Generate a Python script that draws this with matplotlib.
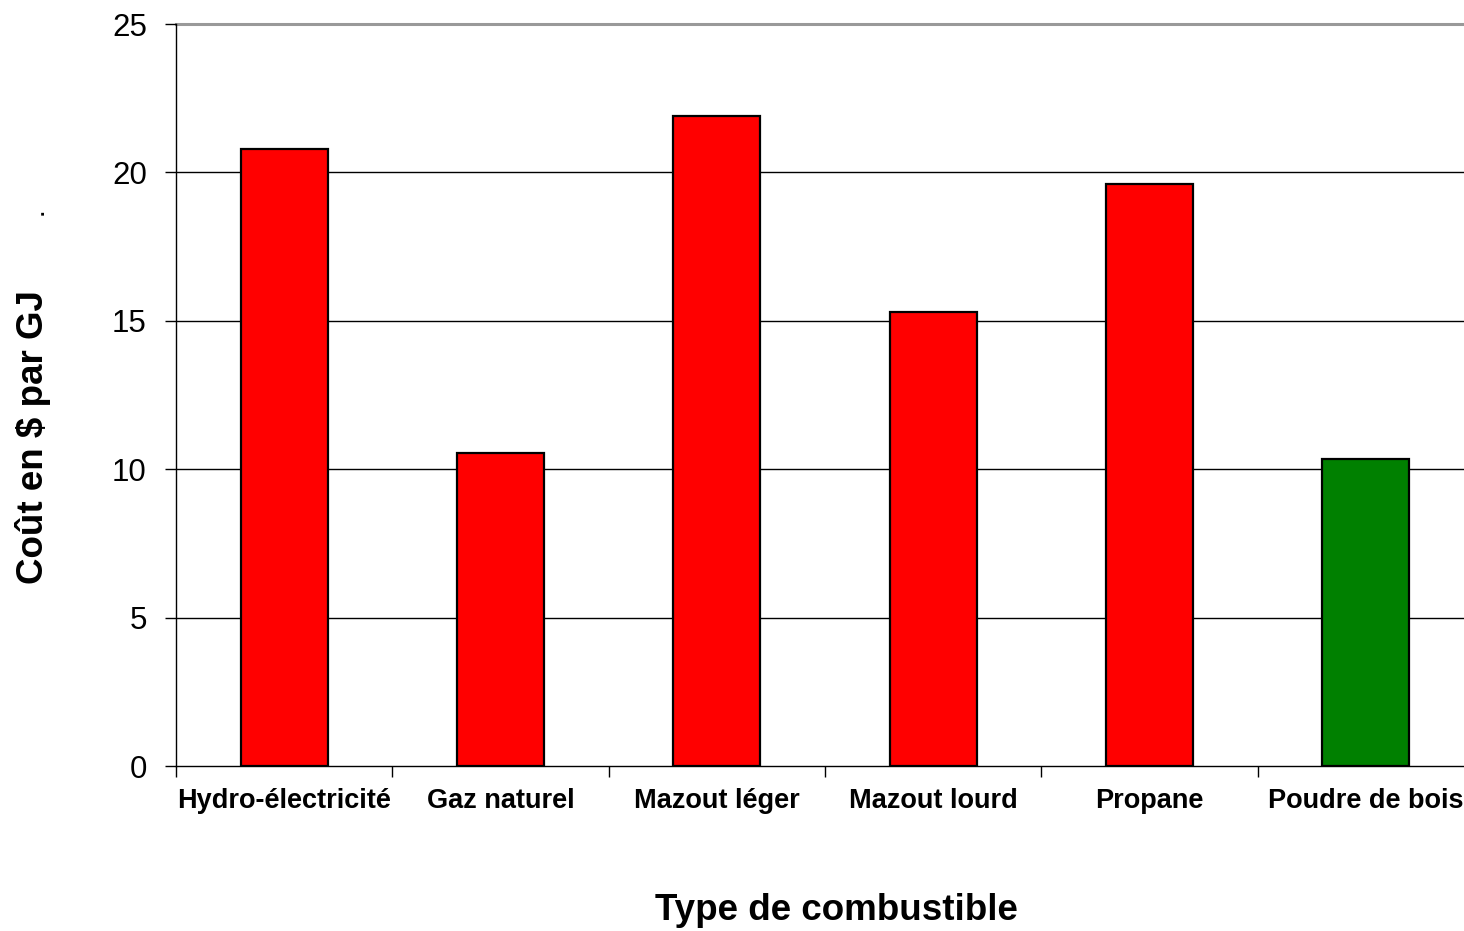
import matplotlib
matplotlib.use("Agg")
import matplotlib.pyplot as plt
import numpy as np

plt.rcParams['font.family'] = ['Liberation Sans', 'DejaVu Sans']

categories = ["Hydro-électricité", "Gaz naturel", "Mazout léger",
              "Mazout lourd", "Propane", "Poudre de bois"]
costs = [20.8, 10.55, 21.9, 15.3, 19.6, 10.35]
colors = ["#FF0000", "#FF0000", "#FF0000", "#FF0000", "#FF0000", "#008000"]
y_ticks = [0, 5, 10, 15, 20, 25]

fig = plt.figure(figsize=(14.64, 9.31), dpi=100)
# plot area runs slightly past the right edge of the canvas
ax = fig.add_axes([176 / 1464, 1 - 766 / 931, 1298 / 1464, (766 - 24) / 931])

x = np.arange(len(categories))
ax.bar(x, costs, width=0.402, color=colors, edgecolor="black", linewidth=1.6, zorder=3)

ax.set_xlim(-0.5, len(categories) - 0.5)
ax.set_ylim(0, 25)
ax.set_yticks(y_ticks)
ax.set_yticklabels([str(v) for v in y_ticks], fontsize=22.5)

# category boundaries carry the tick marks, labels sit at the centres
ax.set_xticks(np.arange(len(categories) + 1) - 0.5)
ax.set_xticklabels([])
ax.set_xticks(x, minor=True)
ax.set_xticklabels(categories, minor=True, fontsize=19.5, fontweight="bold")
ax.tick_params(axis="x", which="major", direction="out", length=8, width=1, color="black")
ax.tick_params(axis="x", which="minor", length=0, pad=16)
ax.tick_params(axis="y", direction="out", length=8, width=1, pad=13)

for v in y_ticks[1:-1]:
    ax.axhline(v, color="black", linewidth=1, zorder=1)
ax.axhline(25, color="#999999", linewidth=2.2, zorder=1, clip_on=False)

for side in ["top", "right"]:
    ax.spines[side].set_visible(False)
ax.spines["left"].set_linewidth(1)
ax.spines["bottom"].set_linewidth(1)

fig.text(836 / 1464, 1 - 910 / 931, "Type de combustible", fontsize=26.5,
         fontweight="bold", ha="center", va="center")
fig.text(33 / 1464, 1 - 437 / 931, "Coût en $ par GJ", fontsize=26.5,
         fontweight="bold", ha="center", va="center", rotation=90)
fig.text(48 / 1464, 1 - 212 / 931, ".", fontsize=14, fontweight="bold",
         ha="right", va="center", rotation=90)

fig.savefig("out.png", dpi=100, facecolor="white")
